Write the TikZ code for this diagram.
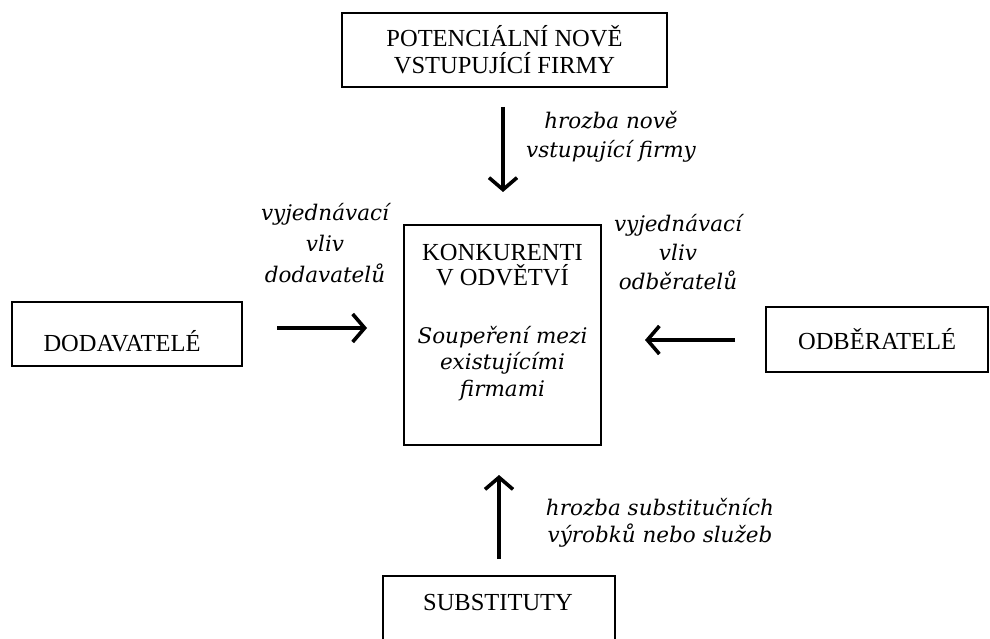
\documentclass[tikz,border=0pt]{standalone}
\usepackage{fontspec}
\setmainfont{Liberation Serif}
\newfontfamily\labelfont{DejaVu Serif}
\usetikzlibrary{arrows.meta}
\begin{document}
\begin{tikzpicture}[x=1pt,y=-1pt,
  box/.style={draw,line width=1.4pt,inner sep=0},
  caps/.style={font=\fontsize{24.5}{27}\selectfont,align=center,inner sep=0},
  lab/.style={font=\labelfont\itshape\fontsize{21.5}{30}\selectfont,align=center,inner sep=0},
  force/.style={line width=3.6pt,-{Straight Barb[length=12pt,width=28pt,line width=3.6pt]}}]
\clip (0,0) rectangle (990,639);
\fill[white] (0,0) rectangle (990,639);
% boxes
\node[box,caps,minimum width=325,minimum height=74] (entrants) at (504.5,50) {POTENCIÁLNÍ NOVĚ\\VSTUPUJÍCÍ FIRMY};
\node[box,minimum width=230,minimum height=64] (suppliers) at (127,334) {};
\node[caps] (supT) at (122,341) {DODAVATELÉ};
\node[box,caps,minimum width=222,minimum height=65] (buyers) at (877,339.5) {ODBĚRATELÉ};
\node[box,minimum width=197,minimum height=220] (rivals) at (502.5,335) {};
\node[caps,font=\fontsize{24.5}{25}\selectfont] (rivT) at (502.5,265.5) {KONKURENTI\\V ODVĚTVÍ};
\node[lab,font=\labelfont\itshape\fontsize{21.5}{26.5}\selectfont] (rivI) at (502.5,363.5) {Soupeření mezi\\existujícími\\firmami};
\node[box,minimum width=232,minimum height=90] (subst) at (499,621) {};
\node[caps] (subT) at (498,603) {SUBSTITUTY};
% arrow ends
\coordinate (dS) at (503,107); \coordinate (dE) at (503,192);
\coordinate (rS) at (277,328); \coordinate (rE) at (367,328);
\coordinate (lS) at (735,340); \coordinate (lE) at (645,340);
\coordinate (uS) at (499,559); \coordinate (uE) at (499,475);
\draw[force] (dS) -- (dE);
\draw[force] (rS) -- (rE);
\draw[force] (lS) -- (lE);
\draw[force] (uS) -- (uE);
% labels
\node[lab,font=\labelfont\itshape\fontsize{21.5}{29}\selectfont] (labTop) at (611,137) {hrozba nově\\vstupující firmy};
\node[lab,font=\labelfont\itshape\fontsize{21.5}{31}\selectfont] (labLeft) at (325,243) {vyjednávací\\vliv\\dodavatelů};
\node[lab,font=\labelfont\itshape\fontsize{21.5}{29}\selectfont] (labRight) at (678,252) {vyjednávací\\vliv\\odběratelů};
\node[lab,font=\labelfont\itshape\fontsize{21.5}{27}\selectfont] (labBot) at (660,523) {hrozba substitučních\\výrobků nebo služeb};
\end{tikzpicture}
\end{document}
